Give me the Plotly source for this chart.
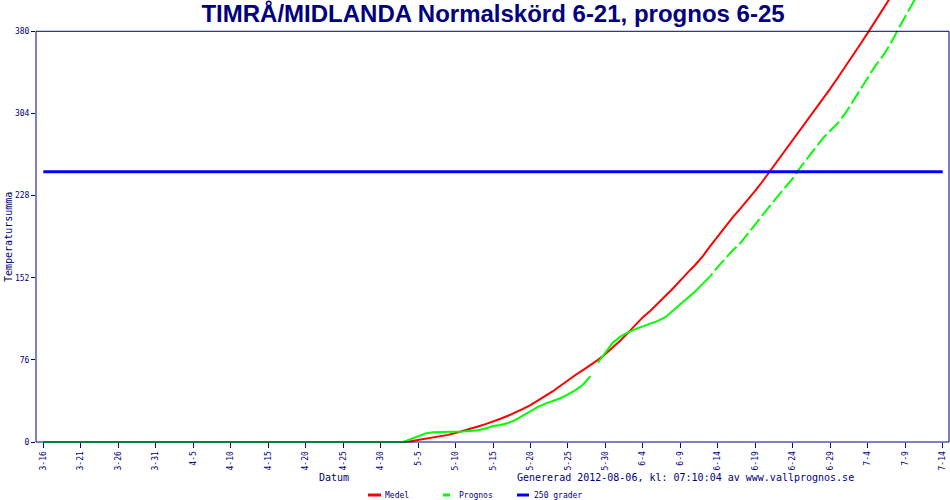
import plotly.graph_objects as go

# dagar raknat fran 3-16 (dag 0) till 7-14 (dag 120)
tick_days = list(range(0, 121, 5))
tick_labels = ["3-16", "3-21", "3-26", "3-31", "4-5", "4-10", "4-15", "4-20", "4-25",
               "4-30", "5-5", "5-10", "5-15", "5-20", "5-25", "5-30", "6-4", "6-9",
               "6-14", "6-19", "6-24", "6-29", "7-4", "7-9", "7-14"]
y_ticks = [0, 76, 152, 228, 304, 380]

days = list(range(0, 121))

medel = [0] * 49 + [
    0.8, 2, 3, 4, 5.2, 6.6, 8.4, 10.2, 12.2, 14.3, 16.5,                  # 49-59
    18.8, 21.5, 24.3, 27.3, 30.6, 34.2, 38.2, 42.5, 47, 52,               # 60-69
    57.4, 62, 66.5, 71, 76, 81.5, 87.5, 94, 101, 108,                     # 70-79
    115.5, 121.5, 128, 135, 142, 150, 157, 164, 172, 181.5,               # 80-89
    190.5, 199.5, 208, 216, 224, 232.5, 241.5, 251, 260.5, 270,           # 90-99
    279.5, 289, 298.5, 307, 317, 327, 337, 347, 357, 368,                 # 100-109
    378.5, 389, 400, 410, 421, 432, 443, 454, 465, 476, 487]              # 110-120

# uppmatt del (dag 0-73), lucka, prognos dag 74-88 heldragen
prognos_days = list(range(0, 74)) + [None] + list(range(74, 89))
prognos = [0] * 49 + [
    2.5, 5.5, 8, 9, 9, 9, 9, 9.6, 10.2, 10.8, 12.5,                       # 49-59
    14.8, 15.8, 17.5, 20.5, 24.5, 29, 32.5, 35.5, 38, 40.5,               # 60-69
    44, 48, 53, 61] + [None] + [                                          # 70-73
    73.5, 83, 92, 97.5, 101.5, 104.5,                                     # 74-79
    107, 109.5, 112, 115.5, 121.5, 128, 134, 139.5, 146.5]                # 80-88

# streckad fortsattning dag 88-120
prognos2_days = list(range(88, 121))
prognos2 = [146.5, 153.5,
            162, 170, 177.5, 184, 193, 202, 210.5, 219, 227.5, 236,       # 90-99
            244, 254, 263, 272.5, 281, 288, 295, 304, 315, 327,           # 100-109
            337, 348, 357, 368, 381, 394, 406, 418, 430, 442, 454]        # 110-120

limit_days = [0, 120]
limit = [250, 250]

NAVY = "#000080"
MONO = "DejaVu Sans Mono"

W, H = 950, 500
ML, MR, MT, MB = 36, 1, 0, 56
PW = W - ML - MR
PH = H - MT - MB


def px(x, y):
    # pixel -> paper
    return (x - ML) / PW, (PH + MT - y) / PH


fig = go.Figure()
fig.add_trace(go.Scatter(x=days, y=medel, mode="lines",
                         line=dict(color="#ff0000", width=2), name="Medel"))
fig.add_trace(go.Scatter(x=prognos_days, y=prognos, mode="lines", connectgaps=False,
                         line=dict(color="#00ff00", width=2), name="Prognos"))
fig.add_trace(go.Scatter(x=prognos2_days, y=prognos2, mode="lines",
                         line=dict(color="#00ff00", width=2, dash="14px,4px"),
                         showlegend=False))
fig.add_trace(go.Scatter(x=limit_days, y=limit, mode="lines",
                         line=dict(color="#0000ff", width=3), name="250 grader"))

# ram runt diagrammet
fig.add_shape(type="rect", xref="paper", yref="y", x0=0, x1=1, y0=0, y1=380,
              line=dict(color=NAVY, width=1), layer="above")

annots = []
ax, ay = px(333.5, 478)
annots.append(dict(x=ax, y=ay, text="Datum", font=dict(family=MONO, size=10, color=NAVY)))
ax, ay = px(685.5, 478)
annots.append(dict(x=ax, y=ay, text="Genererad 2012-08-06, kl: 07:10:04 av www.vallprognos.se",
                   font=dict(family=MONO, size=10, color=NAVY)))
ax, ay = px(8, 237)
annots.append(dict(x=ax, y=ay, text="Temperatursumma", textangle=-90,
                   font=dict(family=MONO, size=10, color=NAVY)))
for a in annots:
    a["xanchor"] = "center"

# egen legend langst ner
legend_items = [("Medel", "#ff0000", 368, 381, 383),
                ("Prognos", "#00ff00", 443, 450, 457),
                ("250 grader", "#0000ff", 517, 529, 532)]
for label, col, x0, x1, xt in legend_items:
    p0, py = px(x0, 495)
    p1, _ = px(x1, 495)
    fig.add_shape(type="line", xref="paper", yref="paper", x0=p0, x1=p1, y0=py, y1=py,
                  line=dict(color=col, width=3))
    pt, _ = px(xt, 495)
    annots.append(dict(x=pt, y=py, text=label, xanchor="left",
                       font=dict(family=MONO, size=8, color=NAVY)))

for a in annots:
    a.update(xref="paper", yref="paper", showarrow=False, yanchor="middle")

fig.update_layout(
    width=W, height=H,
    margin=dict(l=ML, r=MR, t=MT, b=MB, autoexpand=False),
    paper_bgcolor="white", plot_bgcolor="white",
    showlegend=False,
    title=dict(text="<b>TIMRÅ/MIDLANDA Normalskörd 6-21, prognos 6-25</b>",
               x=493 / W, xanchor="center", y=1 - 14 / H, yanchor="middle",
               font=dict(family="Liberation Sans", size=24, color=NAVY)),
    annotations=annots,
)
fig.update_xaxes(range=[-0.974, 120.84], tickvals=tick_days, ticktext=tick_labels,
                 tickangle=-90, ticks="outside", ticklen=5, tickcolor=NAVY,
                 tickfont=dict(family=MONO, size=8, color=NAVY),
                 showgrid=False, zeroline=False, showline=False,
                 anchor="free", position=2 / PH, automargin=False)
fig.update_yaxes(range=[-1.85, 408.96], tickvals=y_ticks, ticktext=[str(v) for v in y_ticks],
                 ticks="outside", ticklen=4, tickcolor=NAVY,
                 tickfont=dict(family=MONO, size=8, color=NAVY),
                 showgrid=False, zeroline=False, showline=False, automargin=False)

fig.write_html("out.html", config={"displayModeBar": False},
               post_script="document.body.style.margin='0';")
